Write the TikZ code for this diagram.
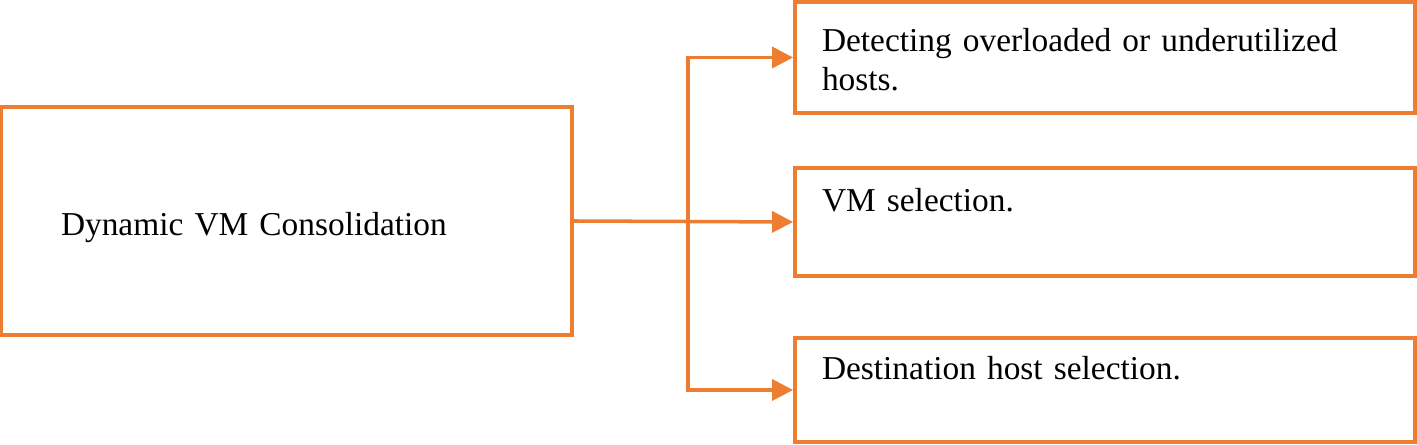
\documentclass[tikz,border=0pt]{standalone}
\usepackage{fontspec}
\setmainfont{Liberation Serif}
\usepackage{xcolor}
\definecolor{boxOrange}{HTML}{ED7D31}
\usepackage{tikz}
\usetikzlibrary{
    arrows.meta,
    positioning,
    calc
}
\tikzset{
    % Base style for all boxes
    plain box/.style={
        rectangle,
        draw=boxOrange,
        line width=2.2pt,
        align=left,
        text=black,
        font=\fontsize{19}{22}\selectfont,
        inner ysep=0pt,
    },
    % Big box on the left
    main box/.style={
        plain box,
        minimum width=11.42cm,
        minimum height=4.56cm,
        text width=9.02cm,
        inner xsep=1.2cm,
        text height=0.58cm,
        text depth=0cm,
    },
    % Task boxes on the right
    task box/.style={
        plain box,
        minimum width=12.4cm,
        text width=11.32cm,
        inner xsep=0.54cm,
        text height=0.5cm,
        text depth=0.9cm,
    },
    % Orange connector with solid triangle tip
    arrow/.style={
        -{Triangle[length=0.42cm, width=0.42cm]},
        line width=2pt,
        draw=boxOrange,
    },
}
\begin{document}
\begin{tikzpicture}
    \useasboundingbox (0,0) rectangle (28.34,8.9);

    \node (consolidation) [main box] at (5.73,4.48) {Dynamic VM Consolidation};
    \node (detect) [task box, minimum height=2.22cm, text depth=0.72cm] at (22.1,7.75) {Detecting overloaded or underutilized\\hosts.};
    \node (vmselect) [task box, minimum height=2.16cm] at (22.1,4.46) {VM selection.};
    \node (destination) [task box, minimum height=2.08cm] at (22.1,1.1) {Destination host selection.};

    \coordinate (split) at ($(consolidation.east)!0.52!(vmselect.west)$);

    \draw [arrow] (consolidation.east) -- (vmselect.west);
    \draw [arrow] (split) |- (detect.west);
    \draw [arrow] (split) |- (destination.west);
\end{tikzpicture}
\end{document}
